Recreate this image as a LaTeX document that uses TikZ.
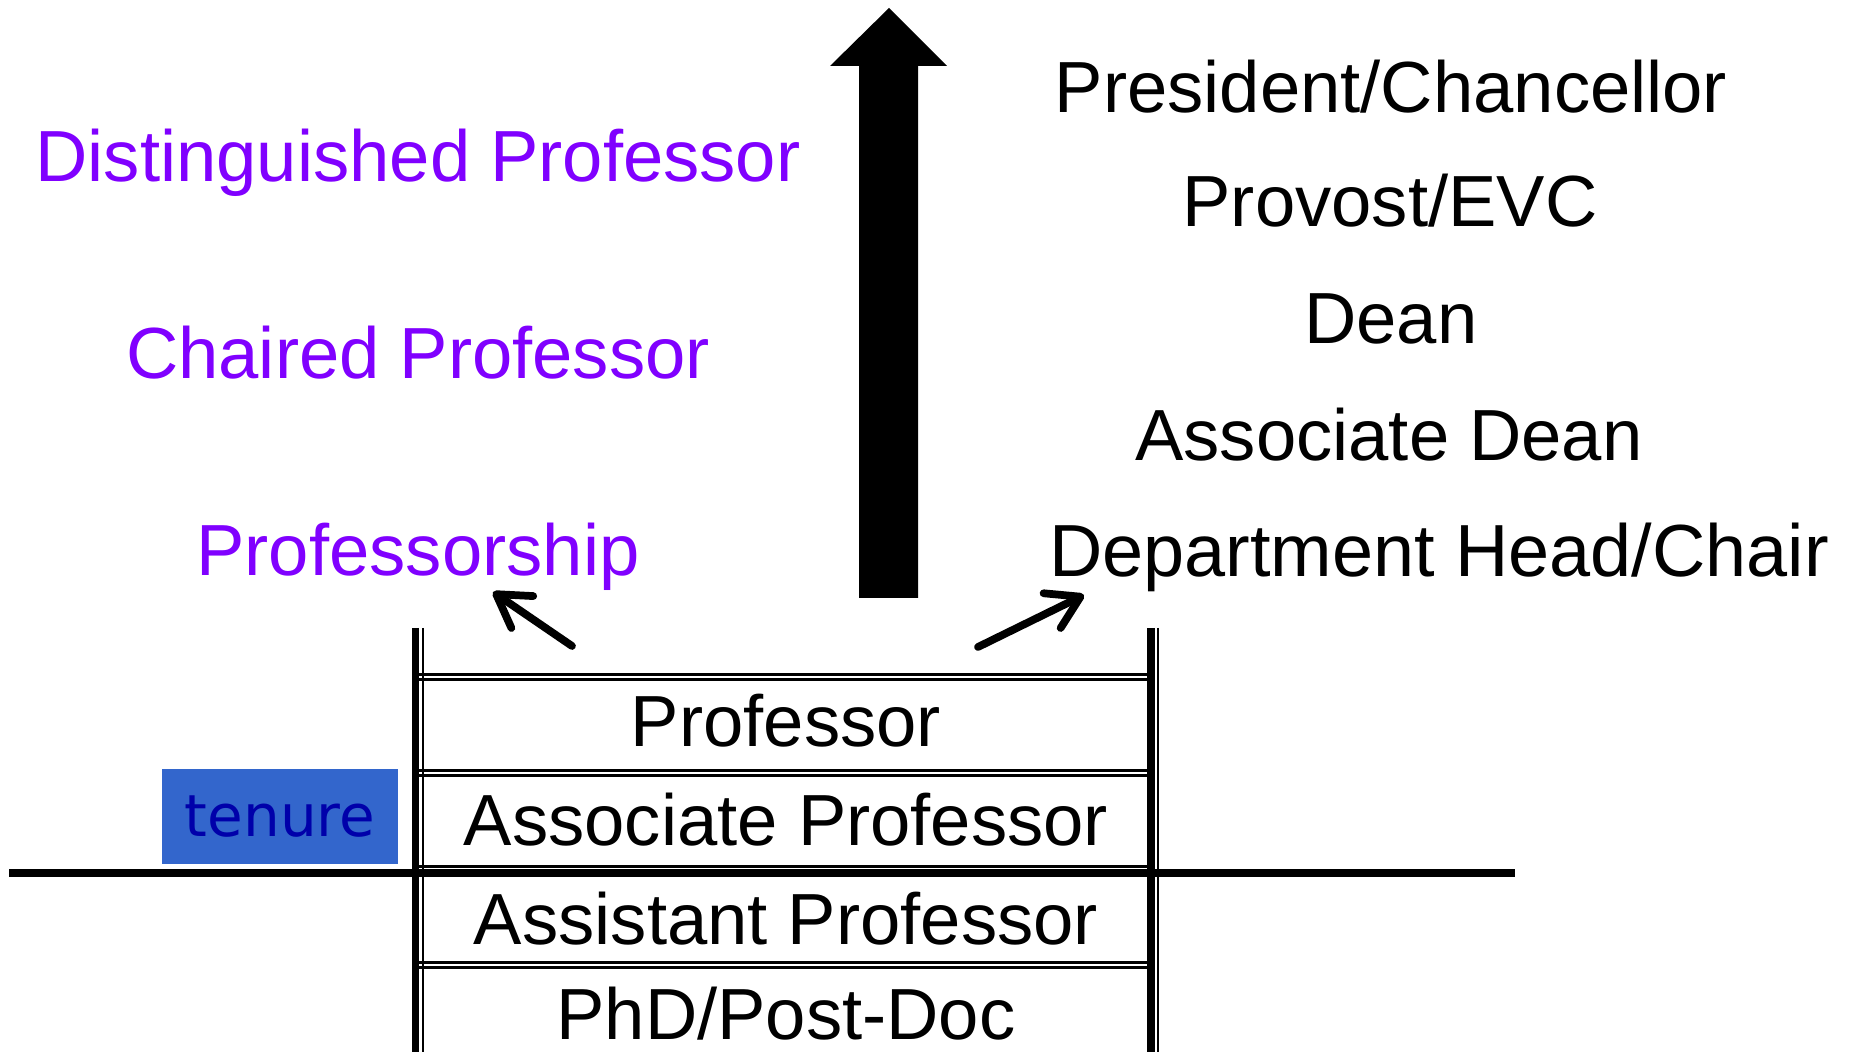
\documentclass[tikz,border=0pt]{standalone}
\usepackage{fontspec}
\setmainfont{Liberation Sans}
\newfontfamily\tenurefont{DejaVu Sans}
\usetikzlibrary{arrows.meta}
\definecolor{honour}{HTML}{8000FF}
\definecolor{tenurefill}{HTML}{3366CC}
\definecolor{tenureink}{HTML}{0000AA}
\tikzset{
  rank/.style={font=\fontsize{20.6}{24}\selectfont, anchor=base, inner sep=0pt},
  chair/.style={rank, text=honour},
  rail/.style={line width=2pt},
  thinline/.style={line width=0.6pt},
  up/.style={line width=2.2pt, line cap=round,
    -{Straight Barb[length=9pt,width=11pt,line join=round,line cap=round]}}
}
\begin{document}
\begin{tikzpicture}[x=0.01cm, y=-0.01cm]
\useasboundingbox (0,0) rectangle (1853,1052);
% rungs of the ladder
\foreach \y in {677,773,869,965} {
  \draw[thinline] (416,\y-2.5) -- (1151,\y-2.5);
  \draw[thinline] (416,\y+2.5) -- (1151,\y+2.5);
}
% tenure line
\draw[line width=2pt] (9,873) -- (1515,873);
% rails
\draw[rail] (415.5,628) -- (415.5,1052);
\draw[thinline] (423,628) -- (423,1052);
\draw[rail] (1151,628) -- (1151,1052);
\draw[thinline] (1158,628) -- (1158,1052);
% big arrow
\fill (859,598) -- (859,66) -- (830,66) -- (889,8) -- (947,66) -- (918,66) -- (918,598) -- cycle;

\node[chair] (distinguished) at (418,182) {Distinguished Professor};
\node[chair] (chaired) at (418,379) {Chaired Professor};
\node[chair] (pship) at (418,576) {Professorship};

\node[rank] (president) at (1391,113) {President/Chancellor};
\node[rank] (provost) at (1390,227) {Provost/EVC};
\node[rank] (dean) at (1391,344) {Dean};
\node[rank] (assocdean) at (1389,461) {Associate Dean};
\node[rank, font=\fontsize{21}{24}\selectfont] (head) at (1439,577) {Department Head/Chair};

\node[rank] (full) at (786,747) {Professor};
\node[rank] (assoc) at (786,846) {Associate Professor};
\node[rank] (asst) at (786,945) {Assistant Professor};
\node[rank] (phd) at (786,1040) {PhD/Post-Doc};

\node[fill=tenurefill, text=tenureink, minimum width=2.36cm, minimum height=0.95cm,
  inner sep=0pt, font=\tenurefont\fontsize{16.5}{18}\selectfont] (tenure) at (280,816.5) {tenure};

\coordinate (leftfoot) at (572,646);
\coordinate (lefttip) at (493,592);
\coordinate (rightfoot) at (978,647);
\coordinate (righttip) at (1084,595);
\draw[up] (leftfoot) -- (lefttip);
\draw[up] (rightfoot) -- (righttip);
\end{tikzpicture}
\end{document}
